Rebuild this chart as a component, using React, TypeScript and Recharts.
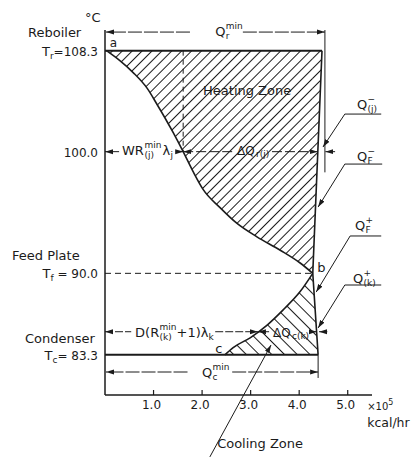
import React from "react";
import {
  ComposedChart,
  Area,
  Line,
  XAxis,
  YAxis,
  ReferenceLine,
  ReferenceDot,
} from "recharts";

const FONT = "'DejaVu Sans', sans-serif";
const INK = "#1b1b1b";

// temperatures, °C
const reboilerT = 108.3;
const feedT = 90.0;
const condenserT = 83.3;
const plateJT = 100.0;
const plateKT = 85.2;

// heat loads, x10^5 kcal/hr
const qReboilerMin = 4.47;
const qFeed = 4.28;
const qCondenserMin = 4.39;
const qPlateJ = 1.61;
const qPlateK = 3.15;
const qEdgeAtJ = 4.38;
const qEdgeAtK = 4.36;

const xTicks = [1, 2, 3, 4, 5];
const yTicks = [83.3, 90, 100, 108.3];
const yTickNames = ["Condenser", "Feed Plate", "", "Reboiler"];
const yTickSubs = ["c", "f", "", "r"];
const yTickValues = ["= 83.3", " = 90.0", "100.0", "=108.3"];

// heating curve a -> b
const heatingQ = [0.03, 0.3, 0.58, 0.87, 1.07, 1.4, 1.61, 1.81, 2.02, 2.37, 2.72, 3.13, 3.61, 4.02, 4.28];
const heatingT = [108.3, 107.5, 106.5, 105.2, 103.9, 101.6, 100.0, 98.4, 96.9, 95.4, 94.1, 93.0, 91.9, 90.85, 90.0];

// cooling curve c -> b
const coolingQ = [2.47, 2.64, 2.99, 3.34, 3.67, 4.02, 4.28];
const coolingT = [83.3, 83.9, 84.7, 85.75, 87.0, 88.5, 90.0];

// right boundary: Q_r^min -> b -> Q_c^min
const edgeQ = [qReboilerMin, qFeed, qCondenserMin];
const edgeT = [reboilerT, feedT, condenserT];

const heatingLine = heatingQ.map((q, i) => ({ q, t: heatingT[i] }));
const coolingLine = coolingQ.map((q, i) => ({ q, t: coolingT[i] }));
const edgeLine = edgeQ.map((q, i) => ({ q, t: edgeT[i] }));
const reboilerLine = [
  { q: 0, t: reboilerT },
  { q: qReboilerMin, t: reboilerT },
];
const condenserLine = [
  { q: 0, t: condenserT },
  { q: qCondenserMin, t: condenserT },
];
const heatingBand = heatingQ.map((q, i) => ({ q, band: [heatingT[i], reboilerT] }));
const heatingSliver = [
  { q: qFeed, band: [feedT, reboilerT] },
  { q: qReboilerMin, band: [reboilerT, reboilerT] },
];
const coolingBand = coolingQ.map((q, i) => ({ q, band: [condenserT, coolingT[i]] }));
const coolingSliver = [
  { q: qFeed, band: [condenserT, feedT] },
  { q: qCondenserMin, band: [condenserT, condenserT] },
];

type SegOpts = { w?: number; dash?: string; start?: boolean; end?: boolean };

function seg(a: [number, number], b: [number, number], opts: SegOpts = {}) {
  return (
    <ReferenceLine
      segment={[
        { x: a[0], y: a[1] },
        { x: b[0], y: b[1] },
      ]}
      ifOverflow="visible"
      shape={(p: any) => (
        <line
          x1={p.x1}
          y1={p.y1}
          x2={p.x2}
          y2={p.y2}
          stroke={INK}
          strokeWidth={opts.w ?? 1}
          strokeDasharray={opts.dash}
          markerStart={opts.start ? "url(#arrow)" : undefined}
          markerEnd={opts.end ? "url(#arrow)" : undefined}
        />
      )}
    />
  );
}

function note(x: number, y: number, draw: (cx: number, cy: number) => React.ReactNode) {
  return (
    <ReferenceDot
      x={x}
      y={y}
      r={0}
      ifOverflow="visible"
      shape={(p: any) => (
        <g fontFamily={FONT} fill={INK}>
          {draw(p.cx, p.cy)}
        </g>
      )}
    />
  );
}

function qSym(x: number, y: number, sup: string, sub: string) {
  return (
    <>
      <text x={x} y={y} fontSize={13}>Q</text>
      <text x={x + 10.5} y={y - 7} fontSize={9}>{sup}</text>
      <text x={x + 10.5} y={y + 3} fontSize={9}>{sub}</text>
    </>
  );
}

const XTick = (p: any) => (
  <g>
    <line x1={p.x} y1={p.y - 5} x2={p.x} y2={p.y} stroke={INK} strokeWidth={1.2} />
    <text x={p.x - 2} y={p.y + 14} textAnchor="middle" fontFamily={FONT} fontSize={12} fill={INK}>
      {Number(p.payload.value).toFixed(1)}
    </text>
  </g>
);

const YTick = (p: any) => {
  const i = yTicks.indexOf(p.payload.value);
  const name = yTickNames[i];
  const sub = yTickSubs[i];
  const nameDx = [-80, -93, 0, -77][i];
  const nameDy = [-12, -13, 0, -14][i];
  return (
    <g fontFamily={FONT} fill={INK}>
      {name && (
        <text x={p.x + nameDx} y={p.y + nameDy} fontSize={13}>
          {name}
        </text>
      )}
      <text x={p.x - 7} y={p.y + 5} textAnchor="end" fontSize={12}>
        {sub && <tspan fontSize={13}>T</tspan>}
        {sub && (
          <tspan fontSize={9} dy={3}>
            {sub}
          </tspan>
        )}
        <tspan dy={sub ? -3 : 0}>{yTickValues[i]}</tspan>
      </text>
    </g>
  );
};

export default function App() {
  return (
    <div style={{ position: "absolute", left: 0, top: 0, background: "#fff" }}>
      <ComposedChart width={411} height={461} margin={{ top: 30, right: 39, bottom: 36, left: 5 }}>
        <defs>
          <pattern id="hatchHeat" width="7" height="7" patternUnits="userSpaceOnUse" patternTransform="rotate(45)">
            <line x1="3.5" y1="0" x2="3.5" y2="7" stroke={INK} strokeWidth="1" />
          </pattern>
          <pattern id="hatchCool" width="9" height="9" patternUnits="userSpaceOnUse" patternTransform="rotate(-45)">
            <line x1="4.5" y1="0" x2="4.5" y2="9" stroke={INK} strokeWidth="1" />
          </pattern>
          <marker
            id="arrow"
            viewBox="0 0 8 6"
            refX="8"
            refY="3"
            markerWidth="8"
            markerHeight="6"
            markerUnits="userSpaceOnUse"
            orient="auto-start-reverse"
          >
            <path d="M0,0.5 L8,3 L0,5.5 z" fill={INK} />
          </marker>
        </defs>
        <XAxis
          type="number"
          dataKey="q"
          domain={[0, 5.5]}
          ticks={xTicks}
          allowDataOverflow
          tick={XTick}
          tickLine={false}
          tickSize={0}
          tickMargin={0}
          height={30}
          axisLine={{ stroke: INK, strokeWidth: 1.5 }}
        />
        <YAxis
          type="number"
          domain={[80, 110]}
          ticks={yTicks}
          allowDataOverflow
          tick={YTick}
          tickLine={false}
          tickSize={0}
          tickMargin={0}
          width={100}
          axisLine={{ stroke: INK, strokeWidth: 1.5 }}
        />

        <Area data={heatingBand} dataKey="band" type="monotone" stroke="none" fill="url(#hatchHeat)" fillOpacity={1} isAnimationActive={false} />
        <Area data={heatingSliver} dataKey="band" type="linear" stroke="none" fill="url(#hatchHeat)" fillOpacity={1} isAnimationActive={false} />
        <Area data={coolingBand} dataKey="band" type="monotone" stroke="none" fill="url(#hatchCool)" fillOpacity={1} isAnimationActive={false} />
        <Area data={coolingSliver} dataKey="band" type="linear" stroke="none" fill="url(#hatchCool)" fillOpacity={1} isAnimationActive={false} />

        <Line data={reboilerLine} dataKey="t" type="linear" stroke={INK} strokeWidth={2} dot={false} activeDot={false} isAnimationActive={false} />
        <Line data={condenserLine} dataKey="t" type="linear" stroke={INK} strokeWidth={2} dot={false} activeDot={false} isAnimationActive={false} />
        <Line data={heatingLine} dataKey="t" type="monotone" stroke={INK} strokeWidth={1.6} dot={false} activeDot={false} isAnimationActive={false} />
        <Line data={coolingLine} dataKey="t" type="monotone" stroke={INK} strokeWidth={1.6} dot={false} activeDot={false} isAnimationActive={false} />
        <Line data={edgeLine} dataKey="t" type="linear" stroke={INK} strokeWidth={1.6} dot={false} activeDot={false} isAnimationActive={false} />

        {seg([0, feedT], [qFeed, feedT], { dash: "6 4" })}
        {seg([qPlateJ, reboilerT], [qPlateJ, plateJT], { dash: "5 4" })}

        {/* Q_r^min */}
        {seg([1.75, 109.83], [0.02, 109.83], { end: true, dash: "14 2" })}
        {seg([2.84, 109.83], [4.53, 109.83], { end: true, dash: "14 2" })}
        {seg([4.53, 110.0], [4.53, 98.3])}

        {/* plate j */}
        {seg([0, plateJT], [0.29, plateJT], { start: true })}
        {seg([1.46, plateJT], [qPlateJ, plateJT], { end: true })}
        {seg([qPlateJ, plateJT], [2.64, plateJT], { start: true, dash: "10 3" })}
        {seg([3.44, plateJT], [qEdgeAtJ, plateJT], { end: true, dash: "10 3" })}
        {seg([4.74, plateJT], [4.54, plateJT], { end: true })}

        {/* plate k */}
        {seg([0, plateKT], [0.54, plateKT], { start: true, dash: "8 2" })}
        {seg([2.27, plateKT], [qPlateK, plateKT], { end: true, dash: "8 2" })}
        {seg([qPlateK, plateKT], [3.38, plateKT], { start: true })}
        {seg([4.24, plateKT], [qEdgeAtK, plateKT], { end: true })}
        {seg([4.58, plateKT], [4.41, plateKT], { end: true })}

        {/* Q_c^min */}
        {seg([1.7, 81.89], [0.02, 81.89], { end: true, dash: "14 2" })}
        {seg([2.62, 81.89], [qCondenserMin, 81.89], { end: true, dash: "14 2" })}
        {seg([qCondenserMin, condenserT], [qCondenserMin, 81.4])}

        {/* leaders */}
        {seg([4.94, 103.09], [5.69, 103.09])}
        {seg([4.94, 103.09], [4.49, 100.38], { end: true })}
        {seg([4.94, 98.98], [5.71, 98.98])}
        {seg([4.94, 98.98], [4.39, 95.45], { end: true })}
        {seg([5.05, 93.07], [5.69, 93.07])}
        {seg([5.05, 93.07], [4.35, 88.46], { end: true })}
        {seg([4.94, 89.04], [5.69, 89.04])}
        {seg([4.94, 89.04], [4.39, 85.51], { end: true })}
        {seg([2.16, 74.91], [3.42, 84.11], { end: true })}

        {note(-0.41, 110.65, (x, y) => <text x={x} y={y} fontSize={13}>°C</text>)}
        {note(0.1, 108.6, (x, y) => <text x={x} y={y} fontSize={12}>a</text>)}
        {note(4.37, 90.1, (x, y) => <text x={x} y={y} fontSize={13}>b</text>)}
        {note(2.27, 83.45, (x, y) => <text x={x} y={y} fontSize={13}>c</text>)}
        {note(2.27, 109.5, (x, y) => qSym(x, y, "min", "r"))}
        {note(2.02, 104.65, (x, y) => <text x={x} y={y} fontSize={13}>Heating Zone</text>)}
        {note(0.35, 99.75, (x, y) => (
          <>
            <text x={x} y={y} fontSize={13}>WR</text>
            <text x={x + 22.5} y={y - 7} fontSize={9}>min</text>
            <text x={x + 22.5} y={y + 3} fontSize={9}>(j)</text>
            <text x={x + 40.5} y={y} fontSize={13}>λ</text>
            <text x={x + 48.5} y={y + 3} fontSize={9}>j</text>
          </>
        ))}
        {note(2.72, 99.7, (x, y) => (
          <>
            <text x={x} y={y} fontSize={12}>ΔQ</text>
            <text x={x + 19} y={y + 2} fontSize={9}>r(j)</text>
          </>
        ))}
        {note(5.19, 103.5, (x, y) => qSym(x, y, "−", "(j)"))}
        {note(5.19, 99.23, (x, y) => qSym(x, y, "−", "F"))}
        {note(5.15, 93.56, (x, y) => qSym(x, y, "+", "F"))}
        {note(5.11, 89.2, (x, y) => qSym(x, y, "+", "(k)"))}
        {note(0.62, 84.77, (x, y) => (
          <>
            <text x={x} y={y} fontSize={13}>D(R</text>
            <text x={x + 24.5} y={y - 7} fontSize={9}>min</text>
            <text x={x + 24.5} y={y + 3} fontSize={9}>(k)</text>
            <text x={x + 41.5} y={y} fontSize={13}>+1)λ</text>
            <text x={x + 73.5} y={y + 3} fontSize={9}>k</text>
          </>
        ))}
        {note(3.46, 84.77, (x, y) => (
          <>
            <text x={x} y={y} fontSize={12}>ΔQ</text>
            <text x={x + 19} y={y + 2} fontSize={9}>c(k)</text>
          </>
        ))}
        {note(2.0, 81.48, (x, y) => qSym(x, y, "min", "c"))}
        {note(2.31, 75.64, (x, y) => <text x={x} y={y} fontSize={13}>Cooling Zone</text>)}
        {note(5.4, 78.77, (x, y) => (
          <>
            <text x={x} y={y} fontSize={10}>×10</text>
            <text x={x + 21} y={y - 5} fontSize={8}>5</text>
          </>
        ))}
        {note(5.4, 77.37, (x, y) => <text x={x} y={y} fontSize={12.5}>kcal/hr</text>)}
      </ComposedChart>
    </div>
  );
}
